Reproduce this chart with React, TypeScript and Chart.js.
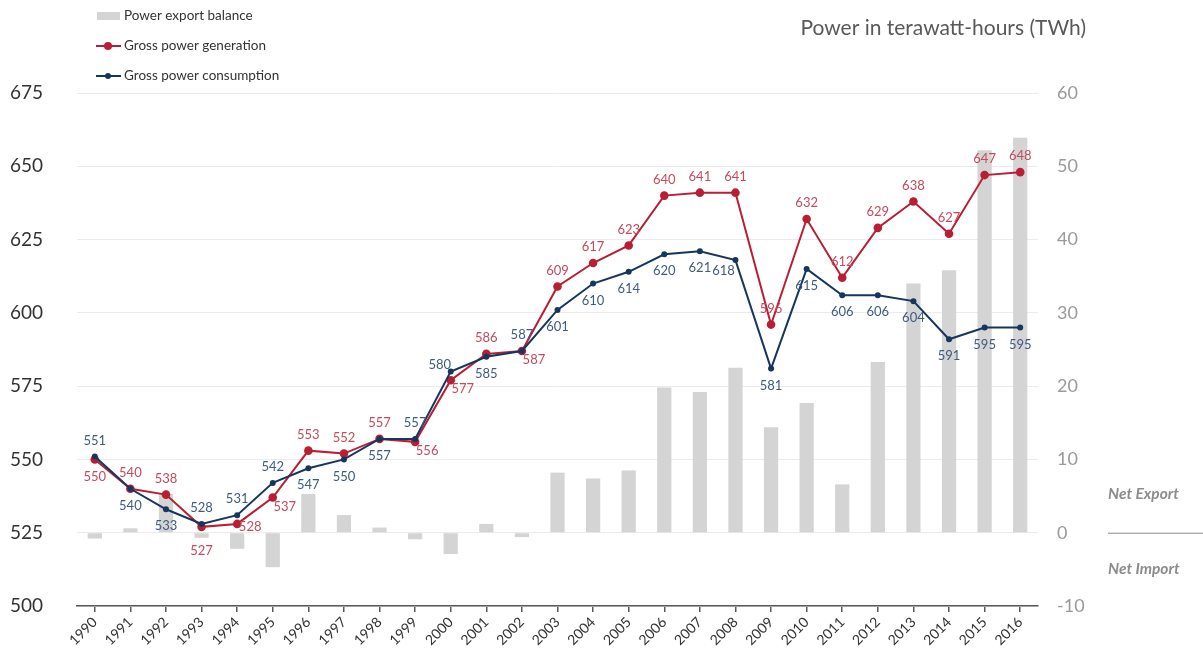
import React, { useEffect, useRef } from 'react';
import { Chart, registerables } from 'chart.js';

Chart.register(...registerables);

const YEARS = ['1990', '1991', '1992', '1993', '1994', '1995', '1996', '1997', '1998', '1999', '2000', '2001', '2002', '2003', '2004', '2005', '2006', '2007', '2008', '2009', '2010', '2011', '2012', '2013', '2014', '2015', '2016'];
const GENERATION = [550, 540, 538, 527, 528, 537, 553, 552, 557, 556, 577, 586, 587, 609, 617, 623, 640, 641, 641, 596, 632, 612, 629, 638, 627, 647, 648];
const CONSUMPTION = [551, 540, 533, 528, 531, 542, 547, 550, 557, 557, 580, 585, 587, 601, 610, 614, 620, 621, 618, 581, 615, 606, 606, 604, 591, 595, 595];
const EXPORT_BALANCE = [-0.8, 0.6, 5.3, -0.7, -2.2, -4.7, 5.3, 2.4, 0.7, -0.9, -2.9, 1.2, -0.6, 8.2, 7.4, 8.5, 19.8, 19.2, 22.5, 14.4, 17.7, 6.6, 23.3, 34.0, 35.8, 52.2, 53.9];

const LEFT_MIN = 500;
const LEFT_MAX = 675;
const LEFT_STEP = 25;
const RIGHT_MIN = -10;
const RIGHT_MAX = 60;
const RIGHT_STEP = 10;

const TITLE = 'Power in terawatt-hours (TWh)';
const NET_EXPORT = 'Net Export';
const NET_IMPORT = 'Net Import';

// label placement codes (style only)
const GEN_LABEL_POS = ['b', 'a', 'a', 'bb', 'r', 'br', 'a', 'a', 'a', 'br', 'br', 'a', 'br', 'a', 'a', 'a', 'a', 'a', 'a', 'a', 'a', 'a', 'a', 'a', 'a', 'a', 'a'];
const CONS_LABEL_POS = ['a', 'b', 'b', 'a', 'a', 'a', 'b', 'b', 'b', 'a', 'al', 'b', 'a', 'b', 'b', 'b', 'b', 'b', 'bl', 'b', 'b', 'b', 'b', 'b', 'b', 'b', 'b'];

const FONT = 'Lato, "Open Sans", "DejaVu Sans", sans-serif';
const RED = '#b81f34';
const BLUE = '#17365d';
const RED_LABEL = '#c44a5c';
const BLUE_LABEL = '#3f5b80';
const BAR = '#d4d4d4';

const OFFSETS: Record<string, [number, number]> = {
  a: [0, -16],
  b: [0, 17],
  bb: [0, 24],
  r: [13, 3],
  br: [12, 9],
  al: [-11, -7],
  bl: [-12, 11],
};

const overlayPlugin = {
  id: 'overlay',
  afterDatasetsDraw(chart: any) {
    const ctx = chart.ctx;
    ctx.save();
    ctx.font = `13px ${FONT}`;
    ctx.textAlign = 'center';
    ctx.textBaseline = 'middle';
    chart.data.datasets.forEach((ds: any, di: number) => {
      if (!ds.labelPos) return;
      const meta = chart.getDatasetMeta(di);
      ctx.fillStyle = ds.labelColor;
      meta.data.forEach((pt: any, i: number) => {
        const [dx, dy] = OFFSETS[ds.labelPos[i]] || [0, -16];
        ctx.fillText(String(Math.round(ds.data[i])), pt.x + dx, pt.y + dy);
      });
    });
    ctx.restore();
  },
  afterDraw(chart: any) {
    const ctx = chart.ctx;
    ctx.save();
    // title
    ctx.fillStyle = '#595959';
    ctx.font = `21px ${FONT}`;
    ctx.textAlign = 'right';
    ctx.textBaseline = 'middle';
    ctx.fillText(TITLE, 1086, 28);

    // legend
    const ds = chart.data.datasets;
    ctx.font = `13.5px ${FONT}`;
    ctx.textAlign = 'left';
    ctx.fillStyle = BAR;
    ctx.fillRect(97, 12, 23, 8);
    ctx.fillStyle = '#333333';
    ctx.fillText(ds[0].label, 124, 16);
    const rows = [
      { d: ds[1], y: 46, r: 4 },
      { d: ds[2], y: 76, r: 3 },
    ];
    rows.forEach(({ d, y, r }) => {
      ctx.strokeStyle = d.borderColor;
      ctx.lineWidth = 2;
      ctx.beginPath();
      ctx.moveTo(96, y);
      ctx.lineTo(121, y);
      ctx.stroke();
      ctx.fillStyle = d.borderColor;
      ctx.beginPath();
      ctx.arc(108, y, r, 0, Math.PI * 2);
      ctx.fill();
      ctx.fillStyle = '#333333';
      ctx.fillText(d.label, 124, y);
    });

    // net export/import annotation
    const y2 = chart.scales.y2;
    const zy = y2.getPixelForValue(0);
    ctx.strokeStyle = '#8c8c8c';
    ctx.lineWidth = 1;
    ctx.beginPath();
    ctx.moveTo(1108, zy + 0.5);
    ctx.lineTo(1203, zy + 0.5);
    ctx.stroke();
    ctx.fillStyle = '#8c8c8c';
    ctx.font = `italic bold 15.5px ${FONT}`;
    ctx.fillText(NET_EXPORT, 1108, zy - 39);
    ctx.fillText(NET_IMPORT, 1108, zy + 36);
    ctx.restore();
  },
};

export default function App() {
  const ref = useRef<HTMLCanvasElement | null>(null);
  useEffect(() => {
    if (!ref.current) return;
    const chart = new Chart(ref.current, {
      type: 'bar',
      data: {
        labels: YEARS,
        datasets: [
          {
            type: 'bar',
            label: 'Power export balance',
            data: EXPORT_BALANCE,
            yAxisID: 'y2',
            backgroundColor: BAR,
            borderWidth: 0,
            barPercentage: 0.4,
            categoryPercentage: 1,
            order: 3,
          } as any,
          {
            type: 'line',
            label: 'Gross power generation',
            data: GENERATION,
            yAxisID: 'y',
            borderColor: RED,
            backgroundColor: RED,
            borderWidth: 2,
            pointRadius: 4.3,
            pointBackgroundColor: RED,
            pointBorderWidth: 0,
            tension: 0,
            order: 2,
            labelPos: GEN_LABEL_POS,
            labelColor: RED_LABEL,
          } as any,
          {
            type: 'line',
            label: 'Gross power consumption',
            data: CONSUMPTION,
            yAxisID: 'y',
            borderColor: BLUE,
            backgroundColor: BLUE,
            borderWidth: 2,
            pointRadius: 3,
            pointBackgroundColor: BLUE,
            pointBorderWidth: 0,
            tension: 0,
            order: 1,
            labelPos: CONS_LABEL_POS,
            labelColor: BLUE_LABEL,
          } as any,
        ],
      },
      options: {
        responsive: false,
        animation: false,
        layout: { padding: { left: 10, right: 105, top: 93, bottom: 0 } },
        plugins: {
          legend: { display: false },
          tooltip: { enabled: false },
          title: { display: false },
        },
        scales: {
          x: {
            offset: true,
            grid: {
              offset: false,
              drawOnChartArea: false,
              drawTicks: true,
              tickLength: 6,
              color: '#595959',
              lineWidth: 1.5,
            },
            border: { color: '#595959', width: 1.5 },
            ticks: {
              minRotation: 45,
              maxRotation: 45,
              color: '#333333',
              font: { family: FONT, size: 14 },
              padding: 2,
              autoSkip: false,
            },
            afterFit: (s: any) => {
              s.height = 45;
            },
          },
          y: {
            position: 'left',
            min: LEFT_MIN,
            max: LEFT_MAX,
            border: { display: false },
            grid: { color: '#ebebeb', lineWidth: 1, drawTicks: false },
            ticks: {
              stepSize: LEFT_STEP,
              crossAlign: 'far',
              color: '#333333',
              font: { family: FONT, size: 19 },
            },
            afterFit: (s: any) => {
              s.width = 67;
            },
          },
          y2: {
            position: 'right',
            min: RIGHT_MIN,
            max: RIGHT_MAX,
            border: { display: false },
            grid: { drawOnChartArea: false, drawTicks: false },
            ticks: {
              stepSize: RIGHT_STEP,
              color: '#9a9a9a',
              padding: 19,
              font: { family: FONT, size: 18 },
            },
            afterFit: (s: any) => {
              s.width = 60;
            },
          },
        },
      } as any,
      plugins: [overlayPlugin],
    });
    return () => chart.destroy();
  }, []);

  return (
    <div style={{ position: 'absolute', left: 0, top: 0, width: 1203, height: 651, background: '#ffffff' }}>
      <canvas ref={ref} width={1203} height={651} style={{ display: 'block' }} />
    </div>
  );
}
